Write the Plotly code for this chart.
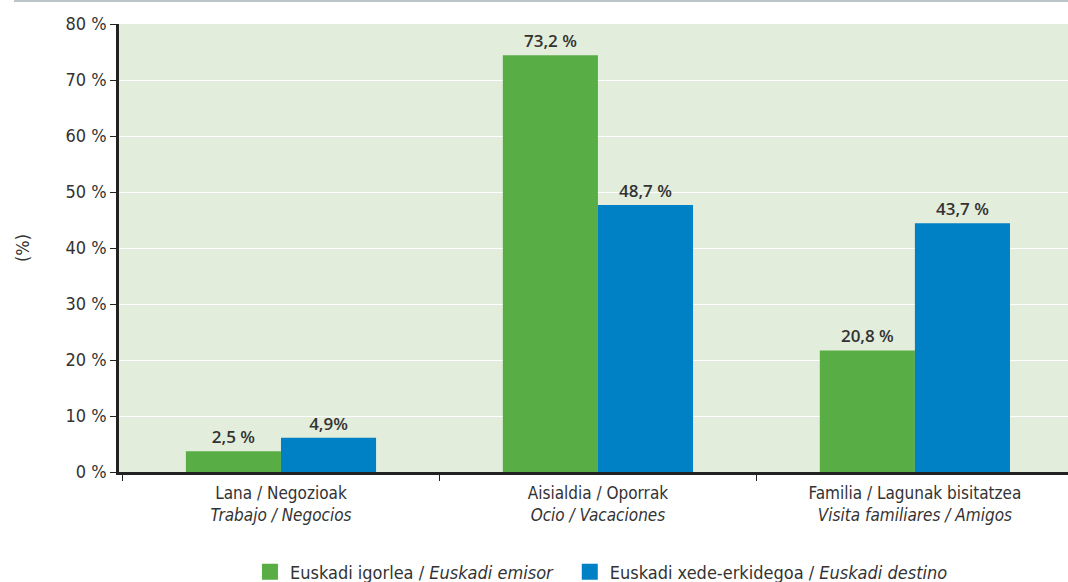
import plotly.graph_objects as go

categories = [
    "Lana / Negozioak<br><i>Trabajo / Negocios</i>",
    "Aisialdia / Oporrak<br><i>Ocio / Vacaciones</i>",
    "Familia / Lagunak bisitatzea<br><i>Visita familiares / Amigos</i>",
]
emisor_values = [3.7, 74.4, 21.7]
destino_values = [6.1, 47.7, 44.4]
emisor_labels = ["2,5 %", "73,2 %", "20,8 %"]
destino_labels = ["4,9%", "48,7 %", "43,7 %"]
series_names = [
    "Euskadi igorlea / <i>Euskadi emisor</i>",
    "Euskadi xede-erkidegoa / <i>Euskadi destino</i>",
]
y_tickvals = [0, 10, 20, 30, 40, 50, 60, 70, 80]
y_ticktext = [f"{v} %" for v in y_tickvals]

GREEN = "#58ad44"
BLUE = "#0081c6"
NARROW = "Liberation Sans Narrow, DejaVu Sans Condensed, Roboto Condensed, Roboto, sans-serif"
LABEL_FONT = dict(family="Open Sans, sans-serif", size=17, color="#333333", weight=600)

fig = go.Figure()
fig.add_trace(go.Bar(
    x=categories, y=emisor_values, text=emisor_labels,
    marker=dict(color=GREEN, line=dict(width=0)),
    textposition="outside", textfont=LABEL_FONT, cliponaxis=False,
    showlegend=False, hoverinfo="skip",
))
fig.add_trace(go.Bar(
    x=categories, y=destino_values, text=destino_labels,
    marker=dict(color=BLUE, line=dict(width=0)),
    textposition="outside", textfont=LABEL_FONT, cliponaxis=False,
    showlegend=False, hoverinfo="skip",
))
# legend entries (one legend per series so their positions match the original)
for name, col, leg in zip(series_names, [GREEN, BLUE], ["legend", "legend2"]):
    fig.add_trace(go.Scatter(
        x=[None], y=[None], mode="markers", name=name, legend=leg,
        marker=dict(symbol="square", size=16, color=col),
    ))

legend_common = dict(
    orientation="h", xanchor="left",
    yref="container", y=0.017, yanchor="middle",
    font=dict(family=NARROW, size=18, color="#333333"),
    itemwidth=30, bgcolor="rgba(0,0,0,0)",
)

fig.update_layout(
    width=1068, height=582,
    margin=dict(l=119, r=0, t=24, b=110, autoexpand=False),
    paper_bgcolor="white",
    plot_bgcolor="#e2eddb",
    barmode="group", bargap=0.4, bargroupgap=0,
    font=dict(family=NARROW, size=17, color="#333333"),
    legend=dict(x=0.138, **legend_common),
    legend2=dict(x=0.475, **legend_common),
    xaxis=dict(
        range=[-0.511, 2.483],
        showline=True, linecolor="#222222", linewidth=2.5,
        ticks="outside", tickson="boundaries", ticklen=6, tickcolor="#222222", tickwidth=1,
        tickfont=dict(family=NARROW, size=17, color="#333333"),
        ticklabelstandoff=4,
        showgrid=False,
    ),
    yaxis=dict(
        range=[0, 80], tickvals=y_tickvals, ticktext=y_ticktext,
        showline=True, linecolor="#222222", linewidth=2.5,
        ticks="outside", ticklen=6, tickcolor="#222222", tickwidth=1,
        tickfont=dict(family=NARROW, size=18, color="#333333"),
        showgrid=True, gridcolor="white", gridwidth=1,
        zeroline=False,
        title=dict(text="(%)", font=dict(family=NARROW, size=18, color="#333333"), standoff=32),
    ),
    shapes=[dict(
        type="line", xref="paper", yref="paper",
        x0=-0.1106, x1=1.0, y0=1.0513, y1=1.0513,
        line=dict(color="#a7b0b5", width=1.5),
    )],
)

fig.write_html(
    "out.html",
    config={"displayModeBar": False},
    post_script="document.body.style.margin='0';document.body.style.overflow='hidden';",
)
